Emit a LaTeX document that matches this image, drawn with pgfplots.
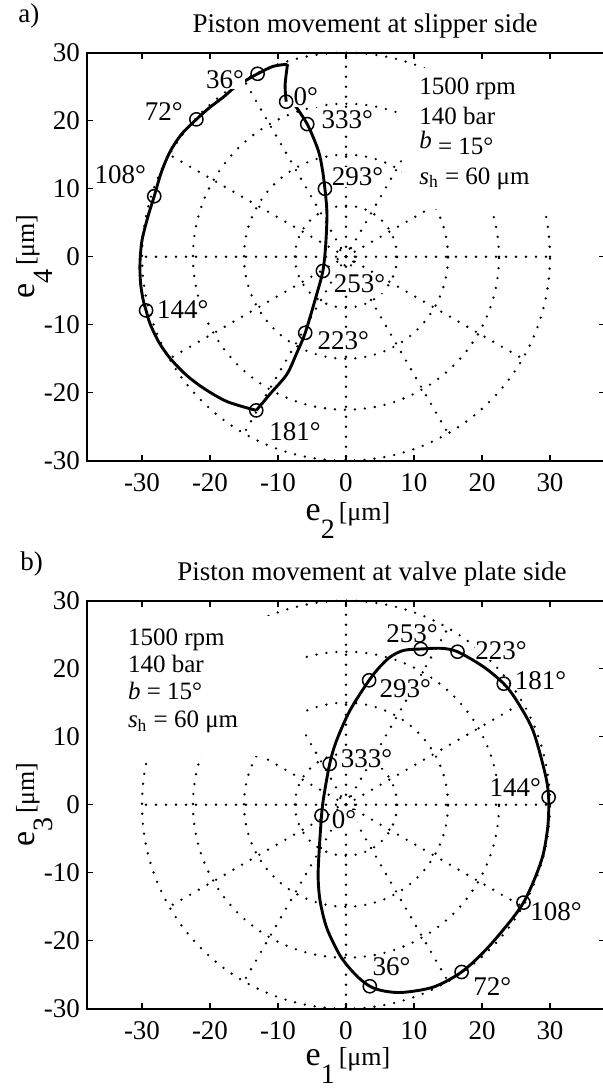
\documentclass[border=0pt]{standalone}
\usepackage{fontspec}
\setmainfont{Liberation Serif}
\usepackage{pgfplots}
\pgfplotsset{compat=1.18}

\pgfplotsset{
  pistonax/.style={
    scale only axis, width=259.08pt, height=204pt,
    xmin=-38.1, xmax=38.1, ymin=-30, ymax=30,
    xtick={-30,-20,...,30}, ytick={-30,-20,...,30},
    tick align=inside, major tick length=3pt,
    axis line style={line width=1.1pt},
    tick style={black, line width=0.7pt},
    ticklabel style={font=\fontsize{13.5}{13.5}\selectfont},
    xticklabel style={yshift=-3pt},
    /pgf/number format/assume math mode=true,
    anchor=south west, clip=false,
  },
  curve/.style={black, line width=1.45pt, smooth, tension=0.5},
  mk/.style={black, only marks, mark=o, mark size=3.3pt, mark options={line width=0.75pt, solid}},
}
\tikzset{
  polgrid/.style={black, line width=1.3pt, line cap=round, dash pattern=on 0pt off 5pt},
  lab/.style={fill=white, inner sep=0.4pt, font=\fontsize{13.5}{13.5}\selectfont},
}

\begin{document}
\begin{tikzpicture}
\path[use as bounding box] (0,0) rectangle (301.5pt,-544pt);

% ---------------- a) slipper side
\begin{axis}[pistonax, at={(43.46pt,-230.35pt)}]
\pgfplotsinvokeforeach{0,30,...,330}{
  \draw[polgrid] (axis cs:0,0) -- (axis cs:{30*cos(#1)},{30*sin(#1)});
}
\pgfplotsinvokeforeach{1.3,7.5,15,22.5,30}{
  \draw[polgrid] (axis cs:0,0) circle[radius=#1];
}
\fill[white] (axis cs:8.3,7.0) rectangle (axis cs:37.9,27.8);
\addplot[curve] coordinates {(-8.8,22.8) (-8.95,25.3) (-8.6,28.3)};
\addplot[curve] coordinates {
  (-8.6,28.3) (-10.7,28.0) (-13.0,26.9) (-14.6,26.0) (-16.5,24.8) (-18.0,23.5)
  (-20.1,21.9) (-22.0,20.2) (-24.2,18.0) (-25.9,15.4) (-27.2,12.3) (-28.2,8.9)
  (-29.1,6.0) (-30.0,2.4) (-30.3,-1.0) (-30.2,-4.0) (-29.8,-6.5) (-29.4,-7.9)
  (-28.8,-9.9) (-27.5,-12.6) (-25.9,-14.9) (-23.6,-17.3) (-21.0,-19.3)
  (-17.5,-21.3) (-13.2,-22.6)};
\addplot[curve] coordinates {
  (-13.2,-22.6) (-11.0,-20.0) (-8.7,-17.3) (-7.3,-14.3) (-6.0,-11.2)
  (-4.3,-5.5) (-3.4,-2.1) (-3.0,1.5) (-2.8,6.3) (-3.1,10.0) (-3.5,13.0)
  (-4.1,15.7) (-5.7,19.5) (-7.6,22.4)};
\addplot[mk] coordinates {
  (-8.8,22.8) (-13.0,26.9) (-22.0,20.2) (-28.2,8.9) (-29.4,-7.9)
  (-13.2,-22.6) (-6.0,-11.2) (-3.4,-2.1) (-3.1,10.0) (-5.7,19.5)};
\node[lab] at (axis cs:-17.8,26.1) {36°};
\node[lab] at (axis cs:-5.9,23.5) {0°};
\node[lab] at (axis cs:-26.8,21.4) {72°};
\node[lab] at (axis cs:-33.2,12.0) {108°};
\node[lab] at (axis cs:-24.0,-7.8) {144°};
\node[lab] at (axis cs:-7.5,-25.8) {181°};
\node[lab] at (axis cs:-0.4,-12.3) {223°};
\node[lab] at (axis cs:2.0,-3.9) {253°};
\node[lab] at (axis cs:1.7,11.7) {293°};
\node[lab] at (axis cs:0.2,20.1) {333°};
\end{axis}

% ---------------- b) valve plate side
\begin{axis}[pistonax, at={(43.46pt,-504.35pt)}]
\pgfplotsinvokeforeach{0,30,...,330}{
  \draw[polgrid] (axis cs:0,0) -- (axis cs:{30*cos(#1)},{30*sin(#1)});
}
\pgfplotsinvokeforeach{1.3,7.5,15,22.5,30}{
  \draw[polgrid] (axis cs:0,0) circle[radius=#1];
}
\fill[white] (axis cs:-37.9,7.2) rectangle (axis cs:-6.0,27.8);
\addplot[curve] coordinates {
  (-3.6,-1.6) (-3.9,-6.0) (-4.1,-10.5) (-3.8,-14.2) (-2.8,-18.2) (-0.8,-22.3)
  (1.4,-25.0) (3.5,-26.7) (5.6,-27.4) (8.4,-27.6) (12.9,-26.8) (17.0,-24.6)
  (20.6,-21.3) (24.1,-17.2) (26.1,-14.4) (27.7,-11.0) (29.0,-7.3) (29.7,-3.0)
  (29.8,1.1) (29.3,4.5) (27.5,10.9) (25.1,15.3) (23.2,17.8) (20.2,20.3)
  (16.4,22.5) (14.0,23.0) (11.0,22.9) (8.5,22.7) (6.6,21.8) (5.0,20.3)
  (3.4,18.3) (0.6,13.9) (-1.4,9.4) (-2.4,6.0) (-3.3,1.0) (-3.6,-1.6)};
\addplot[mk] coordinates {
  (-3.6,-1.6) (3.5,-26.7) (17.0,-24.6) (26.1,-14.4) (29.8,1.1)
  (23.2,17.8) (16.4,22.5) (11.0,22.9) (3.4,18.3) (-2.4,6.0)};
\node[lab] at (axis cs:9.7,25.1) {253°};
\node[lab] at (axis cs:22.8,22.7) {223°};
\node[lab] at (axis cs:28.6,18.3) {181°};
\node[lab] at (axis cs:8.7,17.1) {293°};
\node[lab] at (axis cs:3.0,6.8) {333°};
\node[lab] at (axis cs:24.9,2.5) {144°};
\node[lab] at (axis cs:-0.3,-2.2) {0°};
\node[lab] at (axis cs:30.9,-15.7) {108°};
\node[lab] at (axis cs:21.5,-26.8) {72°};
\node[lab] at (axis cs:6.7,-23.8) {36°};
\end{axis}

% ---------------- texts
\node[anchor=base west, inner sep=0pt, font=\fontsize{13.5}{13.5}\selectfont] at (9pt,-11pt) {a)};
\node[anchor=base, inner sep=0pt, font=\fontsize{13.5}{13.5}\selectfont] at (182.5pt,-16pt) {Piston movement at slipper side};
\node[anchor=base west, inner sep=0pt, font=\fontsize{13.5}{13.5}\selectfont] at (10pt,-285pt) {b)};
\node[anchor=base, inner sep=0pt, font=\fontsize{13.5}{13.5}\selectfont] at (186pt,-290pt) {Piston movement at valve plate side};

\node[anchor=north west, align=left, inner sep=2pt, font=\fontsize{12.5}{15}\selectfont]
  at (207.5pt,-36.5pt) {1500 rpm\\140 bar\\\raisebox{3pt}{\textit{b}} = 15°\\\textit{s}\textsubscript{h} = 60 μm};
\node[anchor=north west, align=left, inner sep=2pt, font=\fontsize{12.5}{13.7}\selectfont]
  at (61.8pt,-312pt) {1500 rpm\\140 bar\\\textit{b} = 15°\\\textit{s}\textsubscript{h} = 60 μm};

\node[anchor=base, inner sep=0pt] at (174pt,-260pt)
  {{\fontsize{17}{17}\selectfont e}\raisebox{-9pt}{\fontsize{14}{14}\selectfont 2}\hspace{2pt}{\fontsize{13}{13}\selectfont [μm]}};
\node[anchor=base, inner sep=0pt] at (174pt,-532.5pt)
  {{\fontsize{17}{17}\selectfont e}\raisebox{-9pt}{\fontsize{14}{14}\selectfont 1}\hspace{2pt}{\fontsize{13}{13}\selectfont [μm]}};
\node[anchor=base, rotate=90, inner sep=0pt] at (17pt,-128.35pt)
  {{\fontsize{17}{17}\selectfont e}\raisebox{-9pt}{\fontsize{14}{14}\selectfont 4}\hspace{2pt}{\fontsize{13}{13}\selectfont [μm]}};
\node[anchor=base, rotate=90, inner sep=0pt] at (17pt,-402.35pt)
  {{\fontsize{17}{17}\selectfont e}\raisebox{-9pt}{\fontsize{14}{14}\selectfont 3}\hspace{2pt}{\fontsize{13}{13}\selectfont [μm]}};
\end{tikzpicture}
\end{document}
